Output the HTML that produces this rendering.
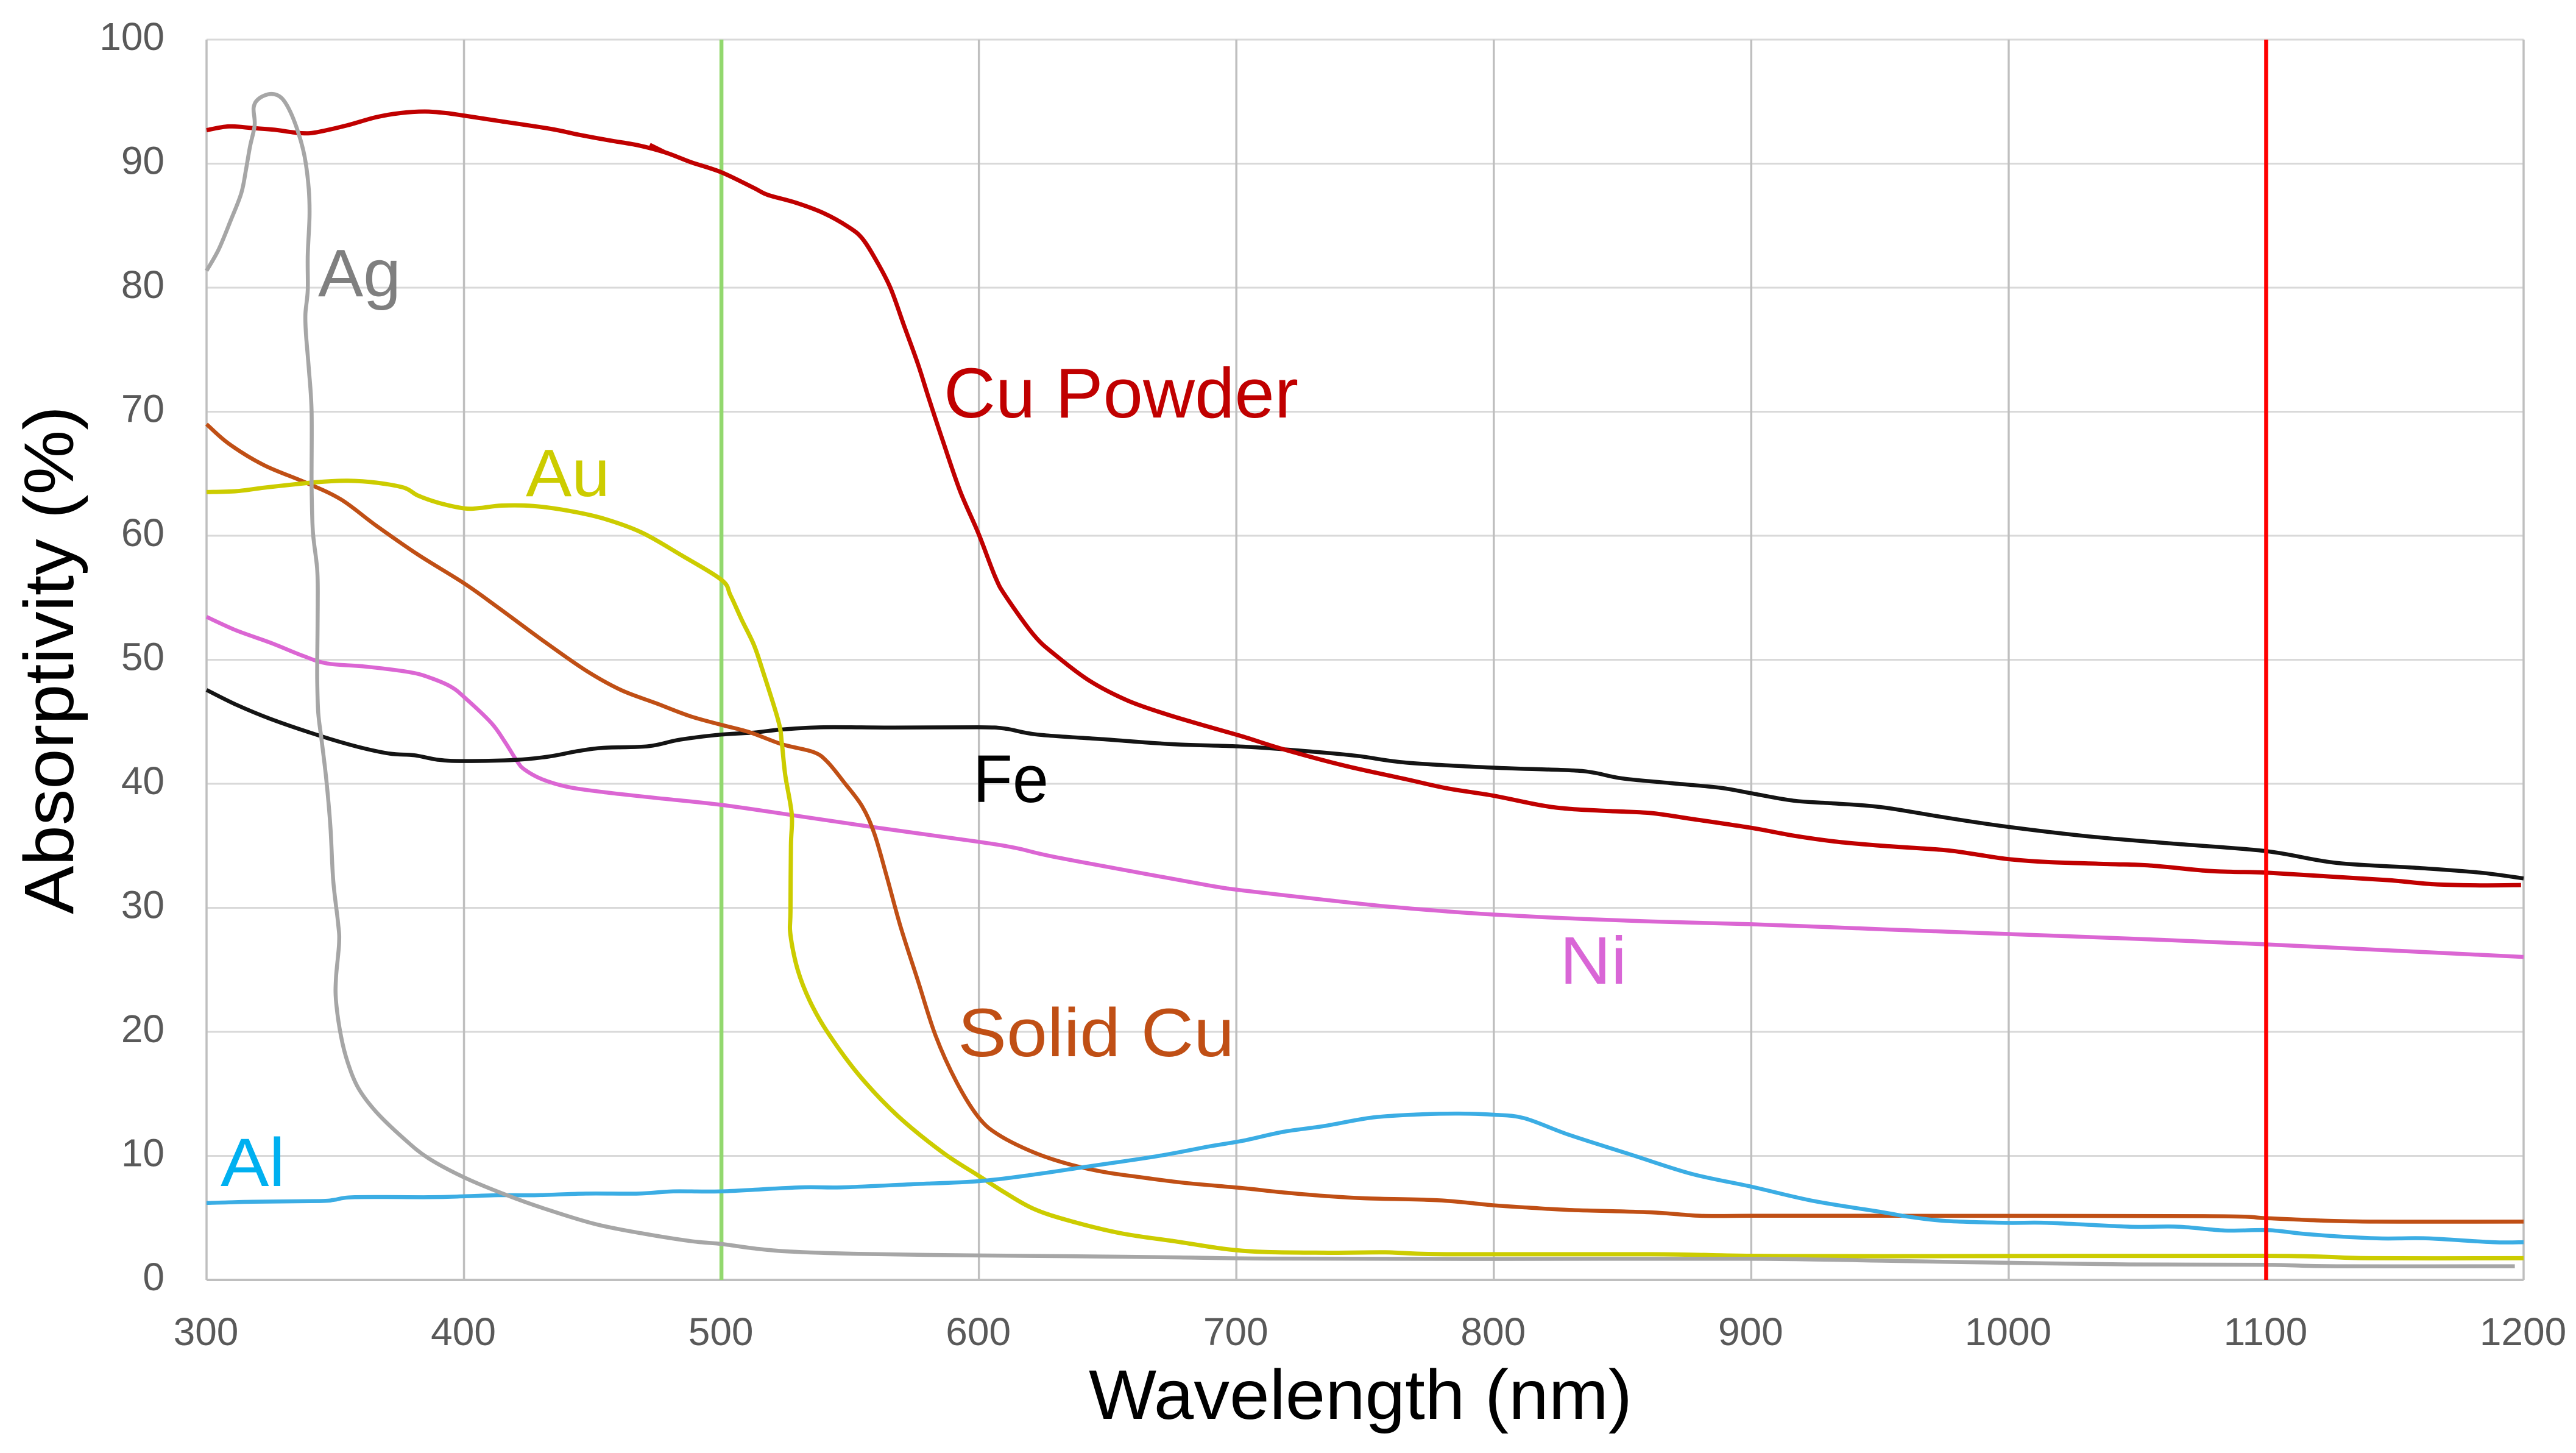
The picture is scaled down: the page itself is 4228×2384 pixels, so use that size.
<!DOCTYPE html>
<html lang="en">
<head>
<meta charset="utf-8">
<title>Absorptivity vs Wavelength</title>
<style>
html,body{margin:0;padding:0;background:#fff;width:4228px;height:2384px;overflow:hidden}
svg{display:block;font-family:"Liberation Sans",sans-serif}
</style>
</head>
<body>
<svg id="chart" xmlns="http://www.w3.org/2000/svg" width="4228" height="2384" viewBox="0 0 4228 2384">
  <rect x="0" y="0" width="4228" height="2384" fill="#ffffff"/>
  <g id="grid"></g>
  <g id="under-marks"></g>
  <g id="series"></g>
  <g id="over-marks"></g>
  <g id="ticks"></g>
  <text x="1787" y="2328" font-size="115" fill="#000" textLength="892" lengthAdjust="spacingAndGlyphs">Wavelength (nm)</text>
  <text transform="translate(120,1500) rotate(-90)" x="0" y="0" font-size="115" fill="#000" textLength="834" lengthAdjust="spacingAndGlyphs">Absorptivity (%)</text>
  <text x="522" y="486" font-size="110" fill="#7f7f7f" textLength="136" lengthAdjust="spacingAndGlyphs">Ag</text>
  <text x="863" y="814" font-size="110" fill="#cccc00" textLength="138" lengthAdjust="spacingAndGlyphs">Au</text>
  <text x="1549" y="685" font-size="116" fill="#c00000" textLength="582" lengthAdjust="spacingAndGlyphs">Cu Powder</text>
  <text x="1572" y="1733" font-size="112" fill="#c04f15" textLength="454" lengthAdjust="spacingAndGlyphs">Solid Cu</text>
  <text x="1597" y="1316" font-size="110" fill="#000000" textLength="124" lengthAdjust="spacingAndGlyphs">Fe</text>
  <text x="2560" y="1614" font-size="110" fill="#d966d6" textLength="110" lengthAdjust="spacingAndGlyphs">Ni</text>
  <text x="362" y="1946" font-size="112" fill="#00b0f0" textLength="106" lengthAdjust="spacingAndGlyphs">Al</text>
</svg>
<script>
var xTickValues = [300,400,500,600,700,800,900,1000,1100,1200];
var yTickValues = [0,10,20,30,40,50,60,70,80,90,100];
var greenMarker = 500;
var redMarker = 1100;

var niWl = [300,311.5,325,337.3,346.8,361.7,379.4,387.5,395,400.3,410.6,416,420.8,423.5,430.3,440.5,454.1,474.5,500,527.3,558.8,599.9,614.5,628,662,689.2,702.5,734.2,758,781.7,799.6,829.3,861,900,951,999.3,1047,1100,1200];
var niVal = [53.46,52.37,51.36,50.33,49.7,49.45,48.98,48.5,47.82,46.95,44.91,43.34,41.77,41.15,40.37,39.74,39.33,38.86,38.3,37.48,36.51,35.32,34.82,34.16,32.84,31.81,31.4,30.65,30.12,29.71,29.46,29.15,28.9,28.68,28.27,27.89,27.52,27.05,26.04];

var feWl = [300,311.5,325,344,359,371.2,380.7,390.2,400.3,420.1,432.4,444.6,454.1,471.7,483.9,500,512.6,523.5,539.8,567,599.9,610.4,622.6,648.4,675.6,702.5,726.3,746.9,765.9,799.6,829.3,838.8,849.9,868.9,887.9,899.9,916.4,932.3,950.8,975,999.3,1031,1063,1100,1127,1159,1183,1200];
var feVal = [47.57,46.38,45.22,43.87,42.97,42.43,42.3,41.93,41.84,41.93,42.18,42.65,42.9,43.03,43.56,43.97,44.13,44.38,44.56,44.53,44.56,44.44,43.97,43.59,43.19,43,42.65,42.25,41.71,41.3,41.09,40.9,40.43,40.05,39.68,39.24,38.64,38.42,38.11,37.29,36.54,35.76,35.19,34.57,33.63,33.22,32.84,32.37];

var solidCuWl = [300,308.7,322.3,338.6,352.2,365.8,382.1,400.3,413.3,431,447.3,460.9,474.5,488,500,511,523.5,535.7,541.1,547.9,554.7,559.4,564.2,569.6,576.4,583.2,591.4,599.9,607.7,621.3,634.8,648.4,662,679.7,702.5,718.3,734.2,750,778.6,799.6,813.4,829.3,861,880,900,951,1076,1100,1120.6,1143,1200];
var solidCuVal = [69,67.41,65.69,64.28,62.93,60.83,58.48,56.13,54.2,51.5,49.14,47.57,46.5,45.44,44.75,44.15,43.19,42.56,41.78,40.05,38.17,35.98,32.53,28.46,24.07,19.68,15.92,13.1,11.69,10.28,9.34,8.71,8.3,7.83,7.4,7.05,6.77,6.58,6.42,6.02,5.83,5.64,5.45,5.17,5.17,5.17,5.14,4.98,4.79,4.7,4.7];

var auWl = [300,311.5,322.3,334.5,344,354.9,365.8,376.7,382.1,390.2,400.3,406.5,414.7,426.9,440.5,454.1,469,484,500,503.5,507.8,512.6,516,522.1,523.5,524.8,527.3,527,526.8,526.8,529.6,534.3,541.1,553.3,568.3,585.9,599.9,610.4,621.3,634.8,655.2,675.6,702.5,734,758,781.7,861,900,951,1100,1140,1200];
var auVal = [63.52,63.59,63.87,64.15,64.34,64.43,64.28,63.87,63.24,62.65,62.2,62.24,62.43,62.4,62.02,61.39,60.26,58.48,56.44,55.2,53.25,51.2,49.14,45.07,43.19,40.68,37.54,35.04,29.71,27.83,25.01,22.5,20,16.55,13.26,10.28,8.4,7,5.73,4.79,3.76,3.13,2.35,2.19,2.22,2.07,2.07,1.94,1.91,1.94,1.75,1.75];

var cuPowderWl = [300,308.7,318.3,326.4,334.5,340,345.4,354.9,365.8,375.3,384.8,393,400.3,413.3,433.7,444.6,456.8,467.7,478.5,488,500,512.6,518,528.9,539.8,549.3,554.7,560.1,565.6,571,576.4,580.5,585.9,592.7,599.9,606.3,610.4,621.3,629.4,643,657.9,672.9,689.2,702.5,718.3,742.1,765.9,781.7,799.6,818.2,829.3,845.1,861,876.8,899.9,916.4,932.3,951,975,986,999.3,1015,1039,1055,1076,1087,1100,1124,1148,1165,1183,1199];
var cuPowderVal = [92.7,93,92.86,92.73,92.5,92.45,92.64,93.1,93.74,94.08,94.2,94.08,93.86,93.45,92.8,92.33,91.86,91.48,90.88,90.13,89.3,88.04,87.48,86.85,86,84.9,83.97,82.2,80,76.9,73.8,71.1,67.7,63.6,60.15,56.7,55.13,52,50.43,48.3,46.7,45.6,44.6,43.81,42.78,41.46,40.37,39.64,39.05,38.27,37.98,37.8,37.64,37.17,36.45,35.82,35.35,35,34.66,34.35,33.94,33.69,33.53,33.41,33,32.9,32.84,32.53,32.22,31.9,31.81,31.84];

var cuPowderSpurWl = [472.2,479.2];
var cuPowderSpurVal = [91.54,90.82];

var alWl = [300,318.2,344,349.5,357.6,386.2,400.3,413.3,428.3,447.3,467.7,481.3,500,530.2,546.5,573.7,599.9,621.3,641.6,668.8,689.2,702.5,718.3,734.2,753.2,772.2,786.5,799.6,811.8,829.3,853,876.8,900,924.3,951,960.6,975,999.3,1015,1047,1066,1084,1101,1117,1143,1162,1188,1200];
var alVal = [6.2,6.3,6.36,6.45,6.67,6.67,6.74,6.83,6.83,6.96,6.96,7.14,7.14,7.46,7.46,7.71,7.96,8.49,9.12,9.96,10.75,11.22,11.94,12.41,13.1,13.35,13.41,13.32,13.04,11.69,10.12,8.55,7.52,6.36,5.46,5.11,4.76,4.6,4.6,4.29,4.29,3.98,4.01,3.67,3.35,3.35,3.04,3.04];

var agWl = [300,304.7,309.4,313.5,315.3,316.9,318.7,318.3,320.3,325,329.1,332.5,335.9,338.2,339.7,340,339.3,339.3,338.4,338.6,339.7,340.8,340.8,341.3,343,343.2,343,343,343.4,344.7,346.5,348.1,349.2,351.1,351.5,350.3,350.3,352.2,354.9,359,365.8,376.7,386.2,400.3,417.4,433.7,451.4,469,488,500,512.6,526.2,553.3,600,634.8,675.6,712,799.6,900,951,999,1047,1100,1127,1196.6];
var agVal = [81.36,83.08,85.43,87.62,89.5,91.39,93.11,94.52,95.24,95.62,95.3,94.2,92.33,90.45,87.94,85.74,82.61,79.79,77.91,76.34,73.52,70.07,64.12,60.36,57.23,54.4,50.02,48.2,45.69,43.5,40.37,36.6,32.22,28.77,27.2,24.38,22.5,19.68,17.49,15.45,13.57,11.38,9.81,8.24,6.77,5.58,4.48,3.76,3.13,2.9,2.54,2.29,2.1,1.97,1.91,1.82,1.72,1.69,1.7,1.55,1.38,1.25,1.22,1.1,1.1];

var SVG_NS = 'http://www.w3.org/2000/svg';
var PLOT_LEFT = 339, PLOT_RIGHT = 4142, PLOT_TOP = 65, PLOT_BOTTOM = 2100;

function xScale(w) { return PLOT_LEFT + (w - 300) / 900 * (PLOT_RIGHT - PLOT_LEFT); }
function yScale(v) { return PLOT_BOTTOM - v / 100 * (PLOT_BOTTOM - PLOT_TOP); }

function smoothPath(wl, val) {
  var pts = [];
  for (var i = 0; i < wl.length; i++) pts.push([xScale(wl[i]), yScale(val[i])]);
  var d = 'M' + pts[0][0].toFixed(1) + ' ' + pts[0][1].toFixed(1);
  for (var j = 0; j < pts.length - 1; j++) {
    var p0 = pts[Math.max(0, j - 1)], p1 = pts[j], p2 = pts[j + 1], p3 = pts[Math.min(pts.length - 1, j + 2)];
    var c1x = p1[0] + (p2[0] - p0[0]) / 6, c1y = p1[1] + (p2[1] - p0[1]) / 6;
    var c2x = p2[0] - (p3[0] - p1[0]) / 6, c2y = p2[1] - (p3[1] - p1[1]) / 6;
    d += 'C' + c1x.toFixed(1) + ' ' + c1y.toFixed(1) + ' ' + c2x.toFixed(1) + ' ' + c2y.toFixed(1) + ' ' + p2[0].toFixed(1) + ' ' + p2[1].toFixed(1);
  }
  return d;
}

var gridLayer = document.getElementById('grid');
var tickLayer = document.getElementById('ticks');

yTickValues.forEach(function (v) {
  var line = document.createElementNS(SVG_NS, 'line');
  
  
  line.setAttribute('x1', PLOT_LEFT);
  line.setAttribute('x2', PLOT_RIGHT);
  line.setAttribute('y1', yScale(v));
  line.setAttribute('y2', yScale(v));
  line.setAttribute('stroke', v === 0 ? '#bfbfbf' : '#d9d9d9');
  line.setAttribute('stroke-width', v === 0 ? 4 : 3);
  gridLayer.appendChild(line);

  var label = document.createElementNS(SVG_NS, 'text');
  
  
  label.setAttribute('x', 270);
  label.setAttribute('y', yScale(v) + 17);
  label.setAttribute('text-anchor', 'end');
  label.setAttribute('font-size', 64);
  label.setAttribute('fill', '#595959');
  label.textContent = v;
  tickLayer.appendChild(label);
});

xTickValues.forEach(function (w) {
  var line = document.createElementNS(SVG_NS, 'line');
  
  
  line.setAttribute('x1', xScale(w));
  line.setAttribute('x2', xScale(w));
  line.setAttribute('y1', PLOT_TOP);
  line.setAttribute('y2', PLOT_BOTTOM);
  line.setAttribute('stroke', '#bfbfbf');
  line.setAttribute('stroke-width', 3.5);
  gridLayer.appendChild(line);

  var label = document.createElementNS(SVG_NS, 'text');
  
  
  label.setAttribute('x', xScale(w) - 1);
  label.setAttribute('y', 2207);
  label.setAttribute('text-anchor', 'middle');
  label.setAttribute('font-size', 64);
  label.setAttribute('fill', '#595959');
  label.textContent = w;
  tickLayer.appendChild(label);
});

function drawMarker(layerId, name, w, color) {
  var line = document.createElementNS(SVG_NS, 'line');
  
  
  line.setAttribute('x1', xScale(w));
  line.setAttribute('x2', xScale(w));
  line.setAttribute('y1', PLOT_TOP);
  line.setAttribute('y2', PLOT_BOTTOM);
  line.setAttribute('stroke', color);
  line.setAttribute('stroke-width', 6.5);
  document.getElementById(layerId).appendChild(line);
}
drawMarker('under-marks', 'marker-line-500nm', greenMarker, '#92d86e');
drawMarker('over-marks', 'marker-line-1100nm', redMarker, '#ff0000');

function drawSeries(name, wl, val, color, width) {
  var path = document.createElementNS(SVG_NS, 'path');
  
  
  path.setAttribute('d', smoothPath(wl, val));
  path.setAttribute('fill', 'none');
  path.setAttribute('stroke', color);
  path.setAttribute('stroke-width', width);
  path.setAttribute('stroke-linejoin', 'round');
  path.setAttribute('stroke-linecap', 'butt');
  document.getElementById('series').appendChild(path);
}
drawSeries('series-ni', niWl, niVal, '#db66d3', 6.5);
drawSeries('series-fe', feWl, feVal, '#141414', 6.5);
drawSeries('series-solid-cu', solidCuWl, solidCuVal, '#c04f15', 6.5);
drawSeries('series-au', auWl, auVal, '#cccc00', 7);
drawSeries('series-cu-powder', cuPowderWl, cuPowderVal, '#c00000', 7);
drawSeries('series-cu-powder-spur', cuPowderSpurWl, cuPowderSpurVal, '#c00000', 6);
drawSeries('series-al', alWl, alVal, '#3bade4', 6.5);
drawSeries('series-ag', agWl, agVal, '#a6a6a6', 6.5);
</script>
</body>
</html>
